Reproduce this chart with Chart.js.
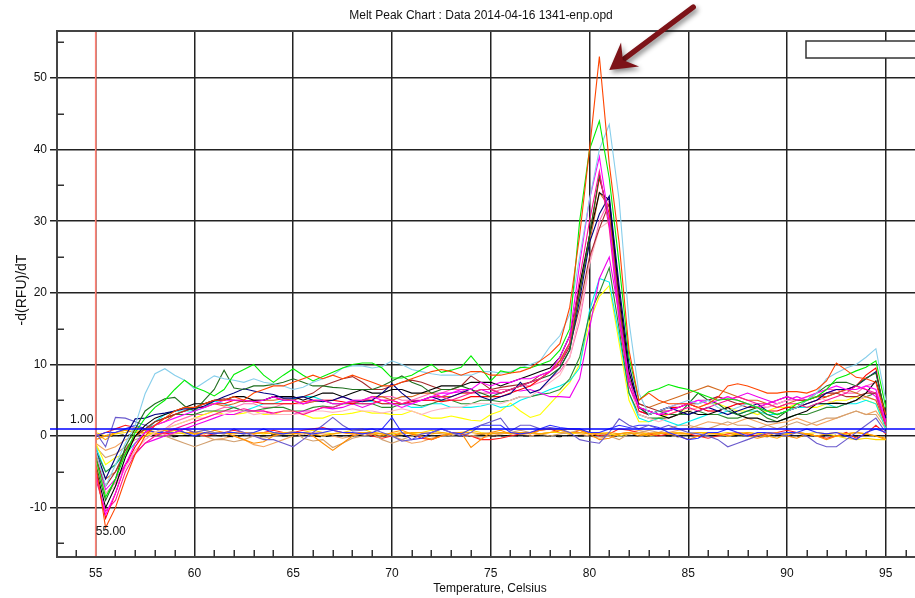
<!DOCTYPE html>
<html><head><meta charset="utf-8">
<script src="https://cdn.jsdelivr.net/npm/chart.js@4/dist/chart.umd.min.js"></script>
<style>html,body{margin:0;padding:0;background:#fff;overflow:hidden}canvas{display:block}</style>
</head><body>
<canvas id="c" width="915" height="598"></canvas>
<script>
// ---------- categories / ticks ----------
const TEMPS = [55,55.5,56,56.5,57,57.5,58,58.5,59,59.5,
 60,60.5,61,61.5,62,62.5,63,63.5,64,64.5,
 65,65.5,66,66.5,67,67.5,68,68.5,69,69.5,
 70,70.5,71,71.5,72,72.5,73,73.5,74,74.5,
 75,75.5,76,76.5,77,77.5,78,78.5,79,79.5,
 80,80.5,81,81.5,82,82.5,83,83.5,84,84.5,
 85,85.5,86,86.5,87,87.5,88,88.5,89,89.5,
 90,90.5,91,91.5,92,92.5,93,93.5,94,94.5,
 95];
const X_TICKS = [55,60,65,70,75,80,85,90,95];
const X_MINOR = [54,56,57,58,59,61,62,63,64,66,67,68,69,71,72,73,74,76,77,78,79,81,82,83,84,86,87,88,89,91,92,93,94,96];
const Y_TICKS = [-10,0,10,20,30,40,50];
const Y_MINOR = [-15,-5,5,15,25,35,45,55];
const THRESHOLD = 1.00;
const START_TEMP = 55.00;
const TITLE = "Melt Peak Chart : Data 2014-04-16 1341-enp.opd";
const X_TITLE = "Temperature, Celsius";
const Y_TITLE = "-d(RFU)/dT";

// ---------- series values (-d(RFU)/dT) ----------
const sOrangeRed = [-4,-12.8,-10,-6,-2.5,0,1.5,2.5,3.5,4,
 4,4.5,5,5,5.5,5,6,6.5,7,7,
 7.5,8,8.5,8,8.5,8,8.5,8,7.5,7,
 7,7.5,8,8.5,9,9.3,9,8.5,9,9,
 8.5,8.5,8.8,9,9.5,10.5,11.5,12.9,18,28,
 40,53,38,27,12,5,6,5,4.5,4.5,
 4.5,4,4.5,5.4,7,7.3,7,6.5,6,6,
 6.2,6.2,6,6.5,7.7,10.2,9.2,8.2,8,7.5,
 3];
const sLime = [-3,-8.5,-6,-2.5,0.5,2.5,4,5,6.5,7.8,
 6.8,6.3,5.6,6.5,8.6,9.3,10,8.5,7.5,8.5,
 9.4,8.5,7.7,8.3,8.9,9.5,10,10.2,10.2,9.5,
 8.1,8.1,8.5,9.3,10,8.9,9.2,9.6,11.2,9.5,
 7.7,9.1,8.8,9.6,9.5,10,10.5,12,15,30,
 40,44,36,24,11,5,6.2,6.6,7.2,6.8,
 6.5,6,5.5,5,5.2,5,4.5,4,3.5,3,
 3.5,4.5,5,5.5,6.5,8,8.5,9.1,9.6,10.5,
 4];
const sSkyBlue = [-2,-7,-4,-1,1.5,5.9,8.7,9.4,8.5,7.8,
 6.6,7.5,8.4,8,7.8,7.5,8,7.5,7.3,7,
 6.5,6.8,7.5,8,8.5,9.5,9.8,9.8,9.5,9.7,
 10.5,10,9.3,9,8.7,8.5,8.5,8.5,8.5,9,
 9,8.8,9,9.5,10,10.5,12.5,14,17,25,
 33,40,43.5,33,16,6,3,3.5,4,4.5,
 5,4.5,5,4,3.5,4,4.5,4,3.5,3,
 3.5,4,5,6,8,8.8,9.5,10,11,12.2,
 5];
const sMagenta = [-5,-11,-8,-4,-1,0.5,1.5,2,2.5,3,
 3.5,4,4.5,5,5,5,4.8,5,5.5,5,
 5,4.5,5,5,4.5,4.5,5,5,5.5,5,
 4.5,4,4.5,5,5.5,6,6,6.5,6.5,7.5,
 7,7.5,7.5,8,8,8.5,9,11,14,24,
 33,39,30,17,8,4,3.5,3,3.5,4,
 4.5,5,4.5,5,5.5,5,4.5,4,4.5,5,
 5.5,5,5.5,6,6.5,7,6.5,6.5,7,6.5,
 2];
const sDeepPink = [-6,-10.5,-9,-5,-2.5,-1,0,0.5,1,1.5,
 2,2.5,3,3.5,3.5,3.8,3.5,3.5,3.2,3.5,
 3.5,3,3.5,4,4,4.5,4.8,4.5,4.5,5,
 5,4.5,5,5,5.5,5.5,5,5.5,6,6.5,
 6.5,6,6.5,7,7.5,8,9,10,13,22,
 30,37,29,16,7,4,3.5,3,3,3.5,
 4,3.5,4,4.5,5,5.5,5,4.5,4.5,4,
 4.5,4.5,4,4.5,5,5.5,6,7,6.5,6,
 1.5];
const sDarkGreen = [-4,-9,-6,-1.5,1,3.5,4.5,5.2,5.4,4.2,
 3.5,5,6.5,9.2,6.7,6.5,7,7,7.2,7.5,
 8,7.5,7,7,6.8,6.7,6.5,6.5,6.5,7,
 7.7,8.4,7.5,7,6,6.5,6.5,7,6.5,6,
 5.5,6,6.5,7,7.5,8,8.5,9.5,12,20,
 28,36.5,30,17,8,4,3,3.5,3,3,
 4.5,6,5,4.5,3.5,3,3.5,4,3,2.5,
 3.5,4,5,6,7,7.5,7.5,7,8.1,8.8,
 3];
const sNavy = [-2,-6,-3,0,2.4,2.5,3,3.2,3.5,3.8,
 3.8,4.2,4.9,5.5,6,6.6,6.3,6,5.8,5.3,
 5.3,5.5,5,4.8,5,5.5,5,4.8,5,6,
 7.3,6,4.9,5,5.5,5,5.5,6,6.6,5.5,
 5,5.5,5.9,7.5,6,6.5,8,9.5,12,19,
 27,31,33.5,21,10,4,3,3.5,4,3.5,
 3,3.5,4,3.5,3,3.5,4,4.5,3.5,3,
 3.5,4,4.5,5,6,6.5,6.5,7,8,9,
 2.5];
const sBlack = [-4.5,-10,-7,-3,0,1.5,2.5,3,3.5,4,
 4.5,4.5,5,5,5.5,5.5,5,5,5.5,5.5,
 5.5,5,5.5,6,6,5.5,6,6.5,6,6,
 6.5,6.5,6,6,6.5,7,7,7,7.5,7.5,
 7.5,7,7.5,8,8.5,9,9.5,11,14,21,
 28,34,33,20,9,4,3.5,3,2.5,3,
 3.5,3,3,3.5,4,3,2.5,2.5,2,2,
 2.5,3,3.5,4.5,4.5,4.6,4.5,5,6,7.7,
 3];
const sBrown = [-3,-7,-5,-2,0,1,2,2.5,3,3.5,
 4,4.5,5,5.2,5,4.8,5,5,5.5,5,
 5,5.5,6,7,7.5,8,8.3,7.5,6.5,6.5,
 7,7.5,7.8,7.5,7,6.5,6.5,7,8.4,7.5,
 6.5,6.8,7,7.2,7.5,8.5,9,10,12.5,18,
 25,29,32.5,19,8,4.5,4,3.5,3.5,4,
 4.5,4.5,5,5.5,5,4.5,4,4,4.5,5,
 5.5,5,5,5.5,6,6,5.5,5.5,6,6,
 1.5];
const sChocolate = [-2.5,-6,-5,-2.5,0,1,1.5,2,3,3.5,
 4,4.5,4.5,4.2,4.5,5,4.8,5,5,5.2,
 5,4.5,4.8,5,4.5,4.5,4.8,5,5.5,5.5,
 5,5.5,5.5,6,6,5.5,5.5,6,6,6.5,
 6.5,6,6.5,7,7.5,8,9,10.5,13,21,
 27,34,32,18,8,4.5,4,4.5,5,5.5,
 6,6.5,7,6.5,6,5.5,5,5,4.5,4,
 4.5,5,5,5.5,5.5,6,6.5,6,5.5,5,
 1.5];
const sPink = [-4,-8,-7,-4.5,-2,-0.5,0.5,1,1.5,2,
 2.5,2.5,3,3,3.5,3.5,3,3.2,3,3,
 3,3.2,3.5,3.5,3.3,3.5,3.8,3.5,3.5,3.2,
 3.5,3.8,3.5,3,3.5,3.8,4,4,4.5,4.5,
 4.5,4.5,5,5.5,5.5,6.5,7.5,8.5,11,17,
 24,29,30,19,8,3,2.5,2,2.5,3,
 3.5,4,4.5,5,5.5,5,4.5,4.5,4,4.5,
 5,5,5.5,5.5,5,4.5,4.5,5,5.5,5,
 1.5];
const sRed = [-5,-11.5,-8,-4,-1.5,0.5,1.5,2.5,3,3.5,
 4,4,4.5,4.5,5,5,4.8,4.5,4.5,4.5,
 4.5,4.8,5,5,5,4.8,4.5,5,5,4.5,
 4.5,4.5,4.8,5,5,4.8,5,5,5.5,5.5,
 5.5,5.5,6,6.5,7,8,9,10.5,13,20,
 28,36,31,18,8,3.5,3,3.5,4,4,
 4.5,4,3.5,3.5,4,4.5,4.5,4,3.5,3.5,
 4,4,4.5,5,5.5,6,6.5,7,8.5,9.5,
 2];
const sMagenta2 = [-3,-7.5,-6,-4,-2.5,-1,-0.5,0,0.5,1,
 1.5,2,2.5,3,3,3.5,3.5,3.5,3,3,
 3,3.5,3.5,4,3.8,4,4.5,4,4.5,5,
 5,4.5,4.5,5,5,5.5,6,6.2,6,6.5,
 6,6,6.5,6.3,6.5,6,5.5,5.5,5.4,8,
 15,22,25,17,7,3.5,3,3.5,4,4.5,
 4.5,5,5,5.5,5,5.5,6,5.5,5,4.5,
 5,5.5,5,5.5,6,6.5,6.5,7,6.5,5.5,
 1.5];
const sGreen2 = [-2,-5,-4,-2,0,1,2,2.5,3,3,
 3,3.5,3.5,3.5,4,3.5,3.5,3.8,4,4,
 3.5,3.5,4,4.2,4,4.5,4.5,4.5,4.5,4,
 4,4.5,4.5,4.2,4.5,5,5,4.5,4.5,5,
 5,4.8,5,5.5,5.5,5.8,6,6.5,8,11,
 17,20,23.5,15,6,3,2.5,2.5,2.5,3,
 3,3.5,3,3,2.5,2.5,3,3.5,2.5,2,
 2.5,3,3,3.5,4,4,4.5,5,5.5,6,
 1.5];
const sCyan = [-1.5,-5,-4,-2.5,-1,0.5,2,3,3.5,3.5,
 3.5,4,4.9,4.5,4,3.5,4,4.5,4.5,5,
 5.2,5.5,5.5,5,4.5,4.5,4.8,5,4.8,4.5,
 4.5,4.5,4,4,4.5,4.5,4,4,4,4.2,
 4.5,4,4.2,5,5.5,5.9,6.5,7,7.7,9.5,
 17.5,22,21.5,14,6,2.5,2,2.5,2,1.5,
 2,2.5,3,3,3.5,3,3.5,3.5,3,3,
 3.5,4,4,4.5,4.5,4,4.5,4.5,5,4.5,
 1];
const sYellow = [-1,-4,-3,-2.5,-1,0,0.5,1,1.5,2,
 2.5,3,3.5,3,3,3.2,3.5,3,3,3.5,
 3.5,3,2.5,2.5,3,3,3.2,3.5,3.2,3.2,
 3,3,3.5,3,2.5,2.5,2.8,2.5,2.2,2.1,
 3,3.5,4.6,3.5,2.6,3,4.5,6,7.5,10,
 16,19.5,21,13,5,2,2,2.5,3,3.5,
 3.5,4,4.5,4.5,4,3.5,3.5,3,3.5,4,
 4,4.5,4,4,4.5,5,5,5.5,5,4.5,
 1];
const sHotPink = [-3.5,-8,-6.5,-4,-2,-0.5,0.5,1,2,2.5,
 3,3,3.5,4,4,4.5,4.5,4,4,4.5,
 4.5,4.5,4.8,5,5,5.5,5,5,5.2,5.5,
 5.5,5,5,5.5,6,6,6.5,6.5,6,6,
 6,6.5,6.5,7,7,7.5,8,9,11,16,
 24,30,33,20,9,4,3.5,3,3.5,4,
 4.5,4,3.5,3.5,4,4.5,4.5,4,4,4.5,
 5,5,5.5,6,6.5,6.5,6,6,7,7.5,
 2];
// negative / no-template wells
const nSlate = [0.5,-1.5,2.6,2.5,2,1.5,1,0.5,0.5,1,
 0.5,0.8,0.5,0.3,1,0.5,0,-0.5,-0.5,-1,
 -1.5,-0.5,0.5,1.5,2.6,1.5,0.7,0.8,1,0.5,
 0,-0.7,-0.5,0.3,0.5,1,0.5,0,0.5,1.5,
 2,2.5,0.7,1.5,1.5,1,1.2,1,0.5,-0.5,
 -0.8,-1,0.5,2.4,1.5,1,1.5,1,1.5,1,
 0.5,0.3,0,-0.5,-1.5,-1,-0.5,0,0.5,0.3,
 0,0.5,0,-1,-1.5,-1.5,-0.5,0.5,1.5,2.5,
 0.5];
const nBlue = [0,0.5,0.5,1,1.5,1,0.5,0.5,1,0.5,
 0,0.5,0.3,0.5,0.5,0.3,0.5,1,0.5,0.3,
 0.5,0.5,0.3,0.5,0.8,0.5,0.5,0.3,0.5,1,
 2.6,0.5,-0.5,-0.3,0.5,1,0.5,0.3,1,1.5,
 1.5,1.5,0.5,0.3,0.5,1,1.5,1.2,1,1,
 0.5,0.5,1,1.5,1.2,1.5,1.5,1.2,0.5,0,
 -0.5,-0.3,0.5,0.5,1,0.5,0,0.5,0.5,0.3,
 0.5,0.5,1,0.5,0.3,0.5,0,-0.5,0.5,1,
 0.5];
const nOrange = [0.3,-0.5,0.5,0.8,0.5,0.5,0.3,0.5,0.8,0.5,
 0.3,0.5,0.3,0.5,0.3,0.5,0.3,0.5,0.3,0.5,
 0.5,0.5,0.3,0,0.3,0.5,0.3,0.5,0.5,0.3,
 0,0.3,0.5,0.5,0.3,0.5,0.3,0.5,0.5,0.3,
 0.3,0.5,0.3,0.5,0.5,0.3,0.5,0.8,0.5,0.5,
 0.3,0.3,0.5,0.3,0.5,0.3,0,0.3,0.5,0.3,
 0.3,0.5,0.3,0.3,0,0.3,0.5,0.3,0,-0.3,
 0.3,0.5,0.3,0,0.3,0.5,0.3,0.5,0.3,0,
 -0.5];
const nDarkOrange = [-0.5,0,0.5,0.8,0.5,0.8,0.5,0.8,1,0.5,
 0.5,0.3,0.8,0.5,0,-0.5,-1,-0.8,0,0.5,
 0.3,0.5,0,-1,-2,-1,0,0.5,0.3,0,
 0.5,0.8,0.3,0,-0.5,0,0.3,0.5,-1.6,-0.5,
 0.5,0.8,0.3,0.5,0.3,0.8,1,0.8,1,0.8,
 0.3,-0.5,-0.3,0.3,0.5,0,0.3,0.5,0.3,0,
 -0.5,0,0.5,0.3,0,0.3,0,-0.3,0,0.5,
 0,-0.3,0.3,0,-0.5,0,0.3,0.5,0.3,0,
 -0.3];
const nTan = [-1.5,-3,-2.5,-1.5,-0.5,0,0.3,0,-0.5,-1,
 -1.5,-1,-0.5,-0.5,-0.8,-0.5,0,-0.3,0,0.3,
 0.7,-0.3,-0.7,-0.5,-1.6,-1,-0.3,0,0.3,-0.5,
 -1,-0.5,0,0.3,0.5,0.3,0,0.5,0,0.3,
 0.5,0.3,0.5,0.8,0.5,0.3,0,0.3,0.5,0.8,
 0.5,0.3,0,-0.5,0.3,0.5,0.8,0.5,1,1.5,
 1.5,1.2,1,1.5,2,1.5,1.5,1,1.5,1,
 1.5,2,1.5,2,2.5,2.5,3,3.5,3,3,
 1];
const nGold = [0.5,0,0.3,0.5,0.8,0.5,1,0.8,0.5,0.3,
 0.5,0.8,0.5,0.3,0.5,0.3,0.5,0.3,0.5,0.3,
 0.3,0.5,0.8,0.5,0.3,0.5,0.8,1,0.5,0.3,
 0.3,0.5,0.3,0.5,0.8,0.5,0.3,0.5,0.8,0.5,
 0.3,0.5,0.5,0.3,0.5,0.3,0.5,0.5,0.3,0.5,
 0.3,0.5,0.3,0,0.3,0.5,0.3,0.5,0.3,0.5,
 0.3,0.5,0.5,0.3,0.5,0.3,0.5,0.3,0.5,0.3,
 0.3,0.5,0.3,0.5,0.3,0,-0.3,-0.5,-0.3,-0.5,
 -0.5];
const nCrimson = [0,0.5,1,1.5,1.2,1,0.5,0.3,0.5,1,
 0.5,0,0.3,0.5,0.8,0.5,0.3,0.5,0.8,0.5,
 0.5,0.8,1,1.2,0.8,0.5,0.3,0.5,0,-0.3,
 0,0.5,0.3,-0.3,-0.5,0,0.5,0.3,0,-0.5,
 -0.5,-0.3,0,0.3,0.5,0.8,1,0.5,0.3,0.8,
 0.5,0,0.3,1,0.8,0.5,0.3,0,0.3,0.5,
 0.3,0,-0.3,0,0.3,0.5,0.3,0,0.3,0.5,
 0.8,0.5,0.3,0,-0.3,0,0.5,-0.3,0.3,1.5,
 0.3];
const nBlackDash = [0,0.1,0,0.2,0.1,0,0.1,0,-0.1,0.1,
 0,0,0.1,0,-0.1,0.1,0,0,0.2,0,
 0,0.1,0,-0.1,0.1,0,0,0.1,0,0,
 0.1,0,-0.1,0.1,0,0,0.1,0,0,0.2,
 0,0,0.1,0,0,0.1,0,-0.1,0.1,0,
 0,0.1,0,0,0.2,0,0,0.1,0,-0.1,
 0.1,0,0,0.1,0,0,0.1,0,-0.1,0.1,
 0,0,0.1,0,0,0.1,0,0,0.1,0,
 0];
const nSandy = [-1,-2,-1.5,-0.5,0,0.5,0.3,0,0.3,0.5,
 0.3,0,-0.5,-0.3,0,-0.5,-1.2,-1.5,-1,-0.5,
 0,0.3,0.5,0.3,0,-0.3,0,0.3,0.5,0.3,
 0,-0.5,-1,-0.8,-0.3,0,0.5,0.3,0,-0.3,
 0,0.3,0.5,0.3,0,0.3,0.5,0.8,0.5,0.3,
 0,-0.3,0,0.3,0.5,0.8,0.5,0.3,0.5,0.8,
 1,1.5,2,1.8,1.5,2,2.5,2,1.5,1.8,
 2,2.5,2,1.5,2,2.5,3,3.5,3,3.5,
 1.5];

// ---------- styles (kept apart from values) ----------
const SERIES = [
  ['A1', sOrangeRed, '#FF4500'], ['A2', sLime, '#00EE00'], ['A3', sSkyBlue, '#87CEEB'],
  ['A4', sMagenta, '#FF00FF'], ['A5', sDeepPink, '#FF1493'], ['A6', sDarkGreen, '#1E6E1E'],
  ['A7', sNavy, '#00007F'], ['A8', sBlack, '#000000'], ['A9', sBrown, '#A52A2A'],
  ['A10', sChocolate, '#D2691E'], ['A11', sPink, '#FFB6C1'], ['A12', sRed, '#FF0000'],
  ['A13', sMagenta2, '#EE00EE'], ['A14', sGreen2, '#2E8B2E'], ['A15', sCyan, '#00F0F0'],
  ['A16', sYellow, '#FFFF00'], ['A17', sHotPink, '#FF69B4'],
  ['N1', nSlate, '#6A5ACD'], ['N2', nBlue, '#3030FF'], ['N3', nOrange, '#FFA500'],
  ['N4', nDarkOrange, '#FF8C00'], ['N5', nTan, '#D2A070'], ['N6', nGold, '#FFD700'],
  ['N7', nCrimson, '#FF2020'], ['N8', nBlackDash, '#000000', [6,5]], ['N9', nSandy, '#F4A460']
];

const FONT = '"Liberation Sans", Arial, sans-serif';
const ARROW = { from: [85.25, 59.9], to: [81.0, 51.1] };

const overlay = {
  id: 'overlay',
  beforeDraw(chart) {
    const c = chart.ctx;
    c.save(); c.fillStyle = '#fff'; c.fillRect(0, 0, chart.width, chart.height); c.restore();
  },
  afterDatasetsDraw(chart) {
    const { ctx, chartArea: a, scales: { x, y } } = chart;
    ctx.save();
    // minor ticks
    ctx.strokeStyle = '#333'; ctx.lineWidth = 1.5;
    ctx.beginPath();
    X_MINOR.forEach(v => { const px = Math.round(x.getPixelForValue(v)) + 0.25; if (px > a.left && px < a.right) { ctx.moveTo(px, a.bottom); ctx.lineTo(px, a.bottom - 7); } });
    Y_MINOR.forEach(v => { const py = Math.round(y.getPixelForValue(v)) + 0.25; if (py > a.top && py < a.bottom) { ctx.moveTo(a.left, py); ctx.lineTo(a.left + 7, py); } });
    ctx.stroke();
    // top border
    ctx.strokeStyle = '#444'; ctx.lineWidth = 2;
    ctx.beginPath(); ctx.moveTo(a.left - 1, a.top); ctx.lineTo(a.right, a.top); ctx.stroke();
    // start temperature marker
    const sx = x.getPixelForValue(START_TEMP);
    ctx.strokeStyle = '#FF7F72'; ctx.lineWidth = 1.6;
    ctx.beginPath(); ctx.moveTo(sx, a.top + 1); ctx.lineTo(sx, a.bottom - 1); ctx.stroke();
    // threshold line
    const ty = y.getPixelForValue(THRESHOLD);
    ctx.strokeStyle = '#0000FF'; ctx.lineWidth = 1.5;
    ctx.beginPath(); ctx.moveTo(a.left - 7, ty); ctx.lineTo(a.right, ty); ctx.stroke();
    // labels
    ctx.fillStyle = '#111'; ctx.font = '12px ' + FONT;
    ctx.textAlign = 'left'; ctx.textBaseline = 'middle';
    ctx.fillText(THRESHOLD.toFixed(2), a.left + 13, ty - 9);
    ctx.fillText(START_TEMP.toFixed(2), sx, a.bottom - 25);
    // legend box (empty)
    ctx.fillStyle = '#fff'; ctx.strokeStyle = '#333'; ctx.lineWidth = 1.5;
    ctx.fillRect(a.right - 109, a.top + 10, 120, 17);
    ctx.strokeRect(a.right - 109, a.top + 10, 120, 17);
    ctx.restore();
  },
  afterDraw(chart) {
    const { ctx, chartArea: a, scales: { x, y } } = chart;
    ctx.save();
    ctx.fillStyle = '#111'; ctx.font = '12px ' + FONT;
    ctx.textAlign = 'center'; ctx.textBaseline = 'middle';
    ctx.fillText(TITLE, 481, 16);
    ctx.fillText(X_TITLE, 490, 589);
    ctx.save();
    ctx.translate(22, 290); ctx.rotate(-Math.PI / 2);
    ctx.font = '14px ' + FONT;
    ctx.fillText(Y_TITLE, 0, 0);
    ctx.restore();
    // arrow
    const x0 = x.getPixelForValue(ARROW.from[0]), y0 = y.getPixelForValue(ARROW.from[1]);
    const x1 = x.getPixelForValue(ARROW.to[0]), y1 = y.getPixelForValue(ARROW.to[1]);
    const dx = x1 - x0, dy = y1 - y0, L = Math.hypot(dx, dy);
    const ux = dx / L, uy = dy / L, nx = -uy, ny = ux;
    const headL = 26, notch = 17, halfW = 15;
    ctx.shadowColor = 'rgba(0,0,0,0.45)'; ctx.shadowBlur = 5; ctx.shadowOffsetX = 2; ctx.shadowOffsetY = 3;
    ctx.strokeStyle = '#7D1318'; ctx.fillStyle = '#7D1318'; ctx.lineWidth = 5.5; ctx.lineCap = 'round';
    ctx.beginPath(); ctx.moveTo(x0, y0); ctx.lineTo(x1 - ux * notch, y1 - uy * notch); ctx.stroke();
    ctx.beginPath();
    ctx.moveTo(x1, y1);
    ctx.lineTo(x1 - ux * headL + nx * halfW, y1 - uy * headL + ny * halfW);
    ctx.lineTo(x1 - ux * notch, y1 - uy * notch);
    ctx.lineTo(x1 - ux * headL - nx * halfW, y1 - uy * headL - ny * halfW);
    ctx.closePath(); ctx.fill();
    ctx.restore();
  }
};

const datasets = SERIES.map(([label, vals, color, dash]) => ({
  label,
  data: TEMPS.map((t, i) => ({ x: t, y: vals[i] })),
  borderColor: color,
  borderWidth: 1.1,
  borderDash: dash || [],
  pointRadius: 0,
  tension: 0,
  fill: false
}));

new Chart(document.getElementById('c'), {
  type: 'line',
  data: { datasets },
  plugins: [overlay],
  options: {
    responsive: false,
    animation: false,
    devicePixelRatio: 1,
    layout: { padding: { top: 31, left: 0, right: 0, bottom: 0 } },
    plugins: { legend: { display: false }, tooltip: { enabled: false }, title: { display: false } },
    scales: {
      x: {
        type: 'linear', min: 53.04, max: 96.48,
        afterBuildTicks: s => { s.ticks = X_TICKS.map(v => ({ value: v })); },
        afterFit: s => { s.height = 41; },
        grid: { color: '#222', lineWidth: 1.5, drawTicks: false },
        border: { display: true, color: '#444', width: 2 },
        ticks: { color: '#111', font: { family: FONT, size: 12 }, padding: 9, maxRotation: 0, autoSkip: false }
      },
      y: {
        type: 'linear', min: -16.89, max: 56.56,
        afterBuildTicks: s => { s.ticks = Y_TICKS.map(v => ({ value: v })); },
        afterFit: s => { s.width = 57; },
        grid: { color: '#222', lineWidth: 1.5, drawTicks: true, tickLength: 7 },
        border: { display: true, color: '#444', width: 2 },
        ticks: { color: '#111', font: { family: FONT, size: 12 }, padding: 3, autoSkip: false }
      }
    }
  }
});
</script>
</body></html>
